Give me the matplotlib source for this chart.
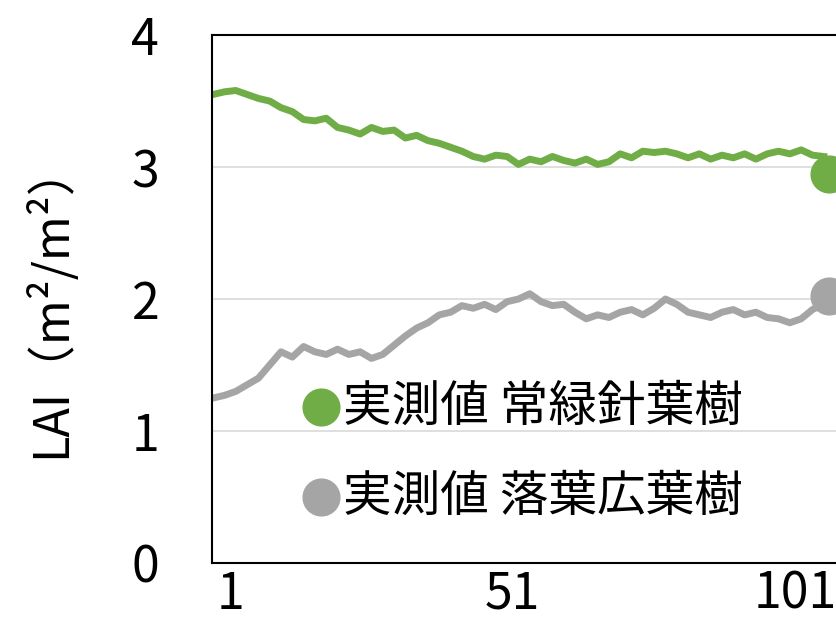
import matplotlib
matplotlib.use("Agg")
import matplotlib.pyplot as plt

plt.rcParams['font.family'] = ['Noto Sans CJK JP', 'DejaVu Sans']

# day index and LAI values
green_x = [-2, 0, 2, 4, 6, 8, 10, 12, 14, 16, 18, 20, 22, 24, 26, 28, 30, 32, 34, 36, 38,
           40, 42, 44, 46, 48, 50, 52, 54, 56, 58, 60, 62, 64, 66, 68, 70, 72, 74, 76,
           78, 80, 82, 84, 86, 88, 90, 92, 94, 96, 98, 100, 102, 104, 106]
green_y = [3.55, 3.57, 3.58, 3.55, 3.52, 3.5, 3.45, 3.42, 3.36, 3.35, 3.37, 3.3, 3.28, 3.25,
           3.3, 3.27, 3.28, 3.22, 3.24, 3.2, 3.18, 3.15, 3.12, 3.08, 3.06, 3.09, 3.08, 3.02,
           3.06, 3.04, 3.08, 3.05, 3.03, 3.06, 3.02, 3.04, 3.1, 3.07, 3.12, 3.11, 3.12, 3.1,
           3.07, 3.1, 3.06, 3.09, 3.07, 3.1, 3.06, 3.1, 3.12, 3.1, 3.13, 3.09, 3.08]
gray_x = [-2, 0, 2, 4, 6, 8, 10, 12, 14, 16, 18, 20, 22, 24, 26, 28, 30, 32, 34, 36, 38,
          40, 42, 44, 46, 48, 50, 52, 54, 56, 58, 60, 62, 64, 66, 68, 70, 72, 74, 76,
          78, 80, 82, 84, 86, 88, 90, 92, 94, 96, 98, 100, 102, 104, 106]
gray_y = [1.25, 1.27, 1.3, 1.35, 1.4, 1.5, 1.6, 1.56, 1.64, 1.6, 1.58, 1.62, 1.58, 1.6,
          1.55, 1.58, 1.65, 1.72, 1.78, 1.82, 1.88, 1.9, 1.95, 1.93, 1.96, 1.92, 1.98, 2.0,
          2.04, 1.98, 1.95, 1.96, 1.9, 1.85, 1.88, 1.86, 1.9, 1.92, 1.88, 1.93, 2.0, 1.96,
          1.9, 1.88, 1.86, 1.9, 1.92, 1.88, 1.9, 1.86, 1.85, 1.82, 1.85, 1.92, 1.96]
meas_x = 107
meas_green = 2.95
meas_gray = 2.02

fig = plt.figure(figsize=(8.36, 6.24), dpi=100)
ax = fig.add_axes([0.2536, 0.0978, 0.748, 0.846])

for g in [1, 2, 3]:
    ax.axhline(g, color="#d9d9d9", lw=1.2, zorder=0)
ax.plot(green_x, green_y, color="#70ad47", lw=5, zorder=2)
ax.plot(gray_x, gray_y, color="#a5a5a5", lw=5, zorder=2)
ax.scatter([meas_x], [meas_green], s=700, color="#70ad47", zorder=3, clip_on=False)
ax.scatter([meas_x], [meas_gray], s=700, color="#a5a5a5", zorder=3, clip_on=False)

ax.set_xlim(-2.2, 108.4)
ax.set_ylim(0, 4)
ax.set_yticks([0, 1, 2, 3, 4])
ax.set_xticks([1, 51, 101])
ax.tick_params(axis="y", labelsize=36, length=0, pad=38)
ax.tick_params(axis="x", labelsize=36, length=0, pad=4)
for s in ax.spines.values():
    s.set_linewidth(1.5)
    s.set_color("black")

fig.text(0.06, 0.52, "LAI（m²/m²）", rotation=90, fontsize=35, ha="center", va="center")

# legend
ax.scatter([17], [1.0 + 0.02 + 0.16], s=700, color="#70ad47", zorder=3)
ax.text(21, 1.18, "実測値 常緑針葉樹", fontsize=35, va="center")
ax.scatter([17], [0.5], s=700, color="#a5a5a5", zorder=3)
ax.text(21, 0.5, "実測値 落葉広葉樹", fontsize=35, va="center")

fig.savefig("out.png", dpi=100)
